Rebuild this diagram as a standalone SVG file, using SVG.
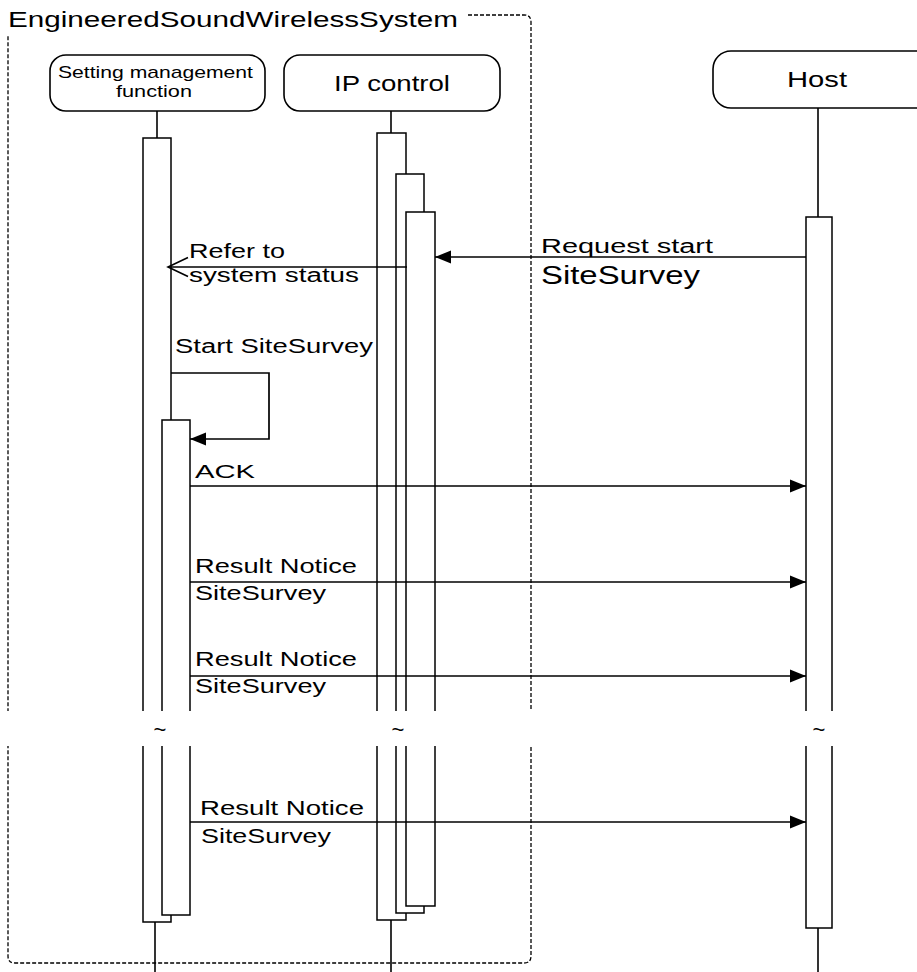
<svg xmlns="http://www.w3.org/2000/svg" width="917" height="972" viewBox="0 0 917 972">
<style>
text{font-family:"Liberation Sans",Arial,sans-serif;fill:#000}
.box{fill:#fff;stroke:#000;stroke-width:1.6}
.act{fill:#fff;stroke:#000;stroke-width:1.5}
.ll{stroke:#000;stroke-width:1.6;fill:none}
.msg{stroke:#000;stroke-width:1.7;fill:none}
.frame{fill:none;stroke:#000;stroke-width:1.3;stroke-dasharray:4 2}
</style>
<defs>
<marker id="filled" markerUnits="userSpaceOnUse" markerWidth="17" markerHeight="14" refX="16" refY="6.5" orient="auto" overflow="visible">
<path d="M0,0 L16,6.5 L0,13 Z" fill="#000"/>
</marker>
<marker id="open" markerUnits="userSpaceOnUse" markerWidth="21" markerHeight="20" refX="20" refY="9.5" orient="auto" overflow="visible">
<path d="M0,0 L20,9.5 L0,19" fill="none" stroke="#000" stroke-width="1.6"/>
</marker>
</defs>
<rect width="917" height="972" fill="#fff"/>

<g id="frame">
<path class="frame" d="M468,15 H524 Q531,15 531,22 V956 Q531,963 524,963 H15 Q8,963 8,956 V36"/>
<text x="8" y="27" font-size="22" textLength="450" lengthAdjust="spacingAndGlyphs">EngineeredSoundWirelessSystem</text>
</g>

<g id="setting-management">
<rect class="box" x="50" y="55" width="215" height="56" rx="16"/>
<text x="58" y="78" font-size="17" textLength="195" lengthAdjust="spacingAndGlyphs">Setting management</text>
<text x="116" y="97" font-size="17" textLength="76" lengthAdjust="spacingAndGlyphs">function</text>
<line class="ll" x1="157" y1="111" x2="157" y2="138"/>
<line class="ll" x1="155" y1="922" x2="155" y2="972"/>
<rect class="act" x="143" y="138" width="28" height="784"/>
<rect class="act" x="162" y="420" width="28" height="495"/>
</g>

<g id="ip-control">
<rect class="box" x="284" y="55" width="216" height="56" rx="16"/>
<text x="334" y="91" font-size="22" textLength="116" lengthAdjust="spacingAndGlyphs">IP control</text>
<line class="ll" x1="391" y1="111" x2="391" y2="133"/>
<line class="ll" x1="391" y1="920" x2="391" y2="972"/>
<rect class="act" x="377" y="133" width="29" height="787"/>
<rect class="act" x="396" y="174" width="28" height="739"/>
<rect class="act" x="406" y="212" width="29" height="694"/>
</g>

<g id="host">
<rect class="box" x="713" y="51" width="230" height="57" rx="18"/>
<text x="787" y="87" font-size="22" textLength="60" lengthAdjust="spacingAndGlyphs">Host</text>
<line class="ll" x1="818" y1="108" x2="818" y2="217"/>
<line class="ll" x1="818" y1="928" x2="818" y2="972"/>
<rect class="act" x="806" y="217" width="26" height="711"/>
</g>

<g id="connectors">
<line class="msg" x1="806" y1="257" x2="435" y2="257" marker-end="url(#filled)"/>
<text x="541" y="253" font-size="20" textLength="172" lengthAdjust="spacingAndGlyphs">Request start</text>
<text x="541" y="284" font-size="25" textLength="159" lengthAdjust="spacingAndGlyphs">SiteSurvey</text>

<line class="msg" x1="407" y1="267" x2="168" y2="267" marker-end="url(#open)"/>
<text x="189" y="258" font-size="20" textLength="96" lengthAdjust="spacingAndGlyphs">Refer to</text>
<text x="189" y="282" font-size="20" textLength="170" lengthAdjust="spacingAndGlyphs">system status</text>

<text x="175" y="353" font-size="20" textLength="198" lengthAdjust="spacingAndGlyphs">Start SiteSurvey</text>
<polyline class="msg" points="171,373 269,373 269,439 190,439" marker-end="url(#filled)"/>

<text x="195" y="478" font-size="19" textLength="60" lengthAdjust="spacingAndGlyphs">ACK</text>
<line class="msg" x1="190" y1="486" x2="806" y2="486" marker-end="url(#filled)"/>

<text x="195" y="573" font-size="20" textLength="162" lengthAdjust="spacingAndGlyphs">Result Notice</text>
<text x="195" y="600" font-size="20" textLength="131" lengthAdjust="spacingAndGlyphs">SiteSurvey</text>
<line class="msg" x1="190" y1="582" x2="806" y2="582" marker-end="url(#filled)"/>

<text x="195" y="666" font-size="20" textLength="162" lengthAdjust="spacingAndGlyphs">Result Notice</text>
<text x="195" y="693" font-size="20" textLength="131" lengthAdjust="spacingAndGlyphs">SiteSurvey</text>
<line class="msg" x1="190" y1="676" x2="806" y2="676" marker-end="url(#filled)"/>

<text x="200" y="815" font-size="20" textLength="164" lengthAdjust="spacingAndGlyphs">Result Notice</text>
<text x="201" y="843" font-size="20" textLength="130" lengthAdjust="spacingAndGlyphs">SiteSurvey</text>
<line class="msg" x1="190" y1="822" x2="806" y2="822" marker-end="url(#filled)"/>
</g>

<g id="break">
<rect x="0" y="711" width="917" height="35" fill="#fff"/>
<text x="160" y="737" font-size="22" text-anchor="middle">~</text>
<text x="398" y="737" font-size="22" text-anchor="middle">~</text>
<text x="819" y="737" font-size="22" text-anchor="middle">~</text>
</g>
</svg>
